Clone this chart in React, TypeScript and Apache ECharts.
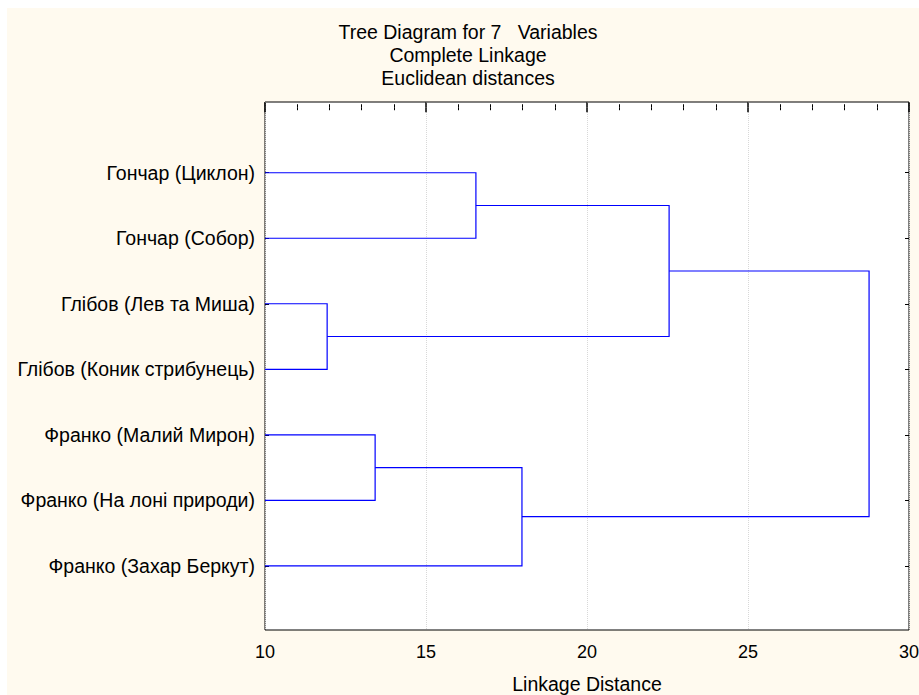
import React, { useEffect, useRef } from "react";
import * as echarts from "echarts";

const titleLines = ["Tree Diagram for 7   Variables", "Complete Linkage", "Euclidean distances"];
const xAxisName = "Linkage Distance";
const leaves = [
  "Гончар (Циклон)",
  "Гончар (Собор)",
  "Глібов (Лев та Миша)",
  "Глібов (Коник стрибунець)",
  "Франко (Малий Мирон)",
  "Франко (На лоні природи)",
  "Франко (Захар Беркут)",
];
// merges: [childA, childB, linkage distance]; node ids: leaves 0..6, merges 7..12
const mergeA = [0, 2, 4, 9, 7, 11];
const mergeB = [1, 3, 5, 6, 8, 10];
const mergeHeight = [16.55, 11.93, 13.42, 17.98, 22.55, 28.76];
const xTicks = [10, 15, 20, 25, 30];

export default function App() {
  const ref = useRef<HTMLDivElement>(null);
  useEffect(() => {
    if (!ref.current) return;
    const chart = echarts.init(ref.current, null, { renderer: "svg" });
    const xMin = xTicks[0];
    const nodeX: number[] = leaves.map(() => xMin);
    const nodeY: number[] = leaves.map((_, i) => i + 1);
    const segs: number[][] = [];
    for (let m = 0; m < mergeA.length; m++) {
      const a = mergeA[m];
      const b = mergeB[m];
      const h = mergeHeight[m];
      segs.push([nodeX[a], nodeY[a], h, nodeY[a], h, nodeY[b], nodeX[b], nodeY[b]]);
      nodeX.push(h);
      nodeY.push((nodeY[a] + nodeY[b]) / 2);
    }
    const leafVals = leaves.map((_, i) => i + 1);
    const font = "Liberation Sans";
    const xBase = {
      type: "value",
      min: xTicks[0],
      max: xTicks[xTicks.length - 1],
      interval: 5,
      axisLine: { show: false },
      minorTick: { show: true, splitNumber: 5, length: 3, lineStyle: { color: "#000" } },
    };
    const yBase = {
      type: "value",
      inverse: true,
      min: -0.08,
      max: 7.98,
      splitLine: { show: false },
      axisLine: { show: false },
    };
    chart.setOption({
      animation: false,
      backgroundColor: "#fffaef",
      title: {
        text: titleLines.join("\n"),
        left: 461,
        top: 12.5,
        padding: 0,
        textAlign: "center",
        textStyle: { fontFamily: font, fontSize: 19.5, fontWeight: "normal", color: "#000", lineHeight: 23 },
      },
      grid: {
        left: 258,
        right: 10,
        top: 94,
        bottom: 65,
        outerBoundsMode: "none",
        containLabel: false,
        show: true,
        backgroundColor: "#ffffff",
        borderColor: "#000",
        borderWidth: 1,
      },
      xAxis: [
        {
          ...xBase,
          position: "bottom",
          name: xAxisName,
          nameLocation: "middle",
          nameGap: 44,
          nameTextStyle: { fontFamily: font, fontSize: 19.5, color: "#000" },
          axisTick: { show: true, inside: true, length: 5, lineStyle: { color: "#000", width: 1.5 } },
          axisLabel: { fontFamily: font, fontSize: 18, color: "#000", margin: 13 },
          splitLine: { show: true, lineStyle: { color: "#d8d8d8", type: "dotted" } },
        },
        {
          ...xBase,
          position: "top",
          axisTick: { show: true, inside: true, length: 5, lineStyle: { color: "#000", width: 1.5 } },
          axisLabel: { show: false },
          splitLine: { show: false },
        },
      ],
      yAxis: [
        {
          ...yBase,
          position: "left",
          axisTick: { show: true, inside: true, length: 4, customValues: leafVals, lineStyle: { color: "#000" } },
          axisLabel: {
            fontFamily: font,
            fontSize: 19.5,
            color: "#000",
            margin: 10,
            customValues: leafVals,
            formatter: (v: number) => leaves[Math.round(v) - 1] ?? "",
          },
        },
        {
          ...yBase,
          position: "right",
          axisTick: { show: true, inside: true, length: 4, customValues: leafVals, lineStyle: { color: "#000" } },
          axisLabel: { show: false },
        },
      ],
      series: [
        {
          type: "custom",
          coordinateSystem: "cartesian2d",
          xAxisIndex: 0,
          yAxisIndex: 0,
          silent: true,
          data: segs,
          encode: { x: [0, 2, 4, 6], y: [1, 3, 5, 7] },
          renderItem: (params: any, api: any) => {
            const pts = [0, 1, 2, 3].map((k) => api.coord([api.value(2 * k), api.value(2 * k + 1)]));
            return {
              type: "polyline",
              shape: { points: pts },
              style: { stroke: "#0000ff", lineWidth: 1.2, fill: "none" },
            };
          },
        },
      ],
    });
    return () => chart.dispose();
  }, []);
  return (
    <div
      ref={ref}
      style={{ position: "absolute", left: 7, top: 8, width: 912, height: 687 }}
    />
  );
}
